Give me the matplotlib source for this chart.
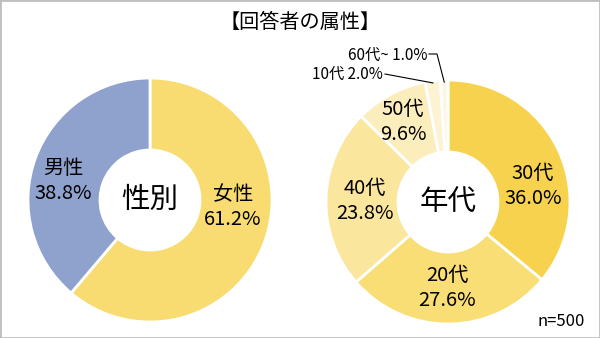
import numpy as np
import matplotlib
matplotlib.use("Agg")
import matplotlib.pyplot as plt
from matplotlib.patches import Rectangle

plt.rcParams['font.family'] = ['Noto Sans CJK JP', 'DejaVu Sans']

# data
gender_labels = ["女性", "男性"]
gender_values = [61.2, 38.8]
gender_colors = ["#F9DC71", "#8FA2CD"]

age_labels = ["30代", "20代", "40代", "50代", "10代", "60代~"]
age_values = [36.0, 27.6, 23.8, 9.6, 2.0, 1.0]
age_colors = ["#F7D24F", "#F9DD75", "#FBE69E", "#FCEDBD", "#FDF2D2", "#FEF6E2"]

title = "【回答者の属性】"
n_text = "n=500"

H = 338
fig = plt.figure(figsize=(6, 3.38), dpi=100)
ax = fig.add_axes([0, 0, 1, 1])

R = 122
hole = 50
left_c = (150, H - 200)
right_c = (448, H - 202)

wp = dict(width=R - hole, edgecolor="white", linewidth=2)
ax.pie(gender_values, colors=gender_colors, startangle=90, counterclock=False,
       center=left_c, radius=R, wedgeprops=wp, frame=True)
ax.pie(age_values, colors=age_colors, startangle=90, counterclock=False,
       center=right_c, radius=R, wedgeprops=wp, frame=True)
ax.set_xlim(0, 600)
ax.set_ylim(0, H)
ax.axis("off")

# center captions
ax.text(left_c[0], left_c[1], "性別", ha="center", va="center", fontsize=20.5)
ax.text(right_c[0], right_c[1], "年代", ha="center", va="center", fontsize=20.5)

# label positions (image pixel coords)
gender_pos = [(233, 207), (63, 181)]
for lab, v, (x, y) in zip(gender_labels, gender_values, gender_pos):
    ax.text(x, H - y, f"{lab}\n{v:.1f}%", ha="center", va="center",
            fontsize=14.5, linespacing=1.2)

age_pos = [(533, 186), (447, 288), (365, 201), (403, 122)]
for lab, v, (x, y) in zip(age_labels[:4], age_values[:4], age_pos):
    ax.text(x, H - y, f"{lab}\n{v:.1f}%", ha="center", va="center",
            fontsize=14.5, linespacing=1.2)

# small slices with leader lines
cum = np.cumsum([0] + age_values)
def edge_point(i, r):
    mid = (cum[i] + cum[i + 1]) / 2 / 100 * 2 * np.pi
    return right_c[0] + r * np.sin(mid), right_c[1] + r * np.cos(mid)

x10, y10 = edge_point(4, R - 2)
ax.text(383, H - 74, f"{age_labels[4]} {age_values[4]:.1f}%", ha="right",
        va="center", fontsize=11)
ax.plot([385, x10], [H - 74, y10], color="black", lw=0.8)

x60, y60 = edge_point(5, R - 2)
ax.text(427, H - 55, f"{age_labels[5]} {age_values[5]:.1f}%", ha="right",
        va="center", fontsize=11)
ax.plot([429, 437, x60], [H - 54, H - 54, y60], color="black", lw=0.8)

ax.text(300, H - 22, title, ha="center", va="center", fontsize=14.5)
ax.text(585, H - 322, n_text, ha="right", va="center", fontsize=12)

fig.patches.append(Rectangle((0, 0), 1, 1, transform=fig.transFigure,
                             fill=False, edgecolor="#BFBFBF", linewidth=2))

fig.savefig("out.png", dpi=100)
